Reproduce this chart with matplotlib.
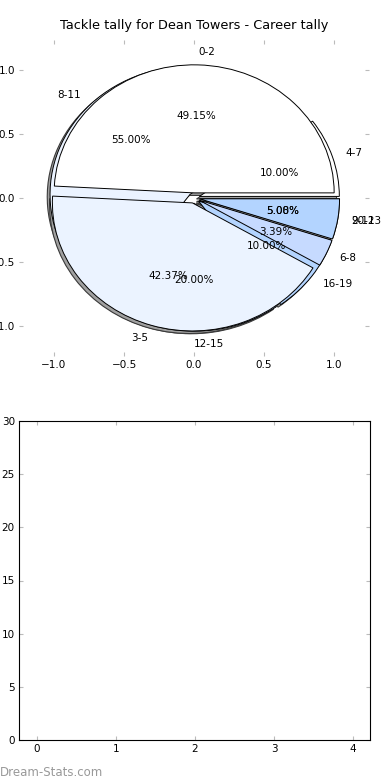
import matplotlib
matplotlib.use("Agg")
import matplotlib.pyplot as plt

# Datos: dos tallies superpuestos en el mismo pie
labels_a = ["0-2", "3-5", "6-8", "9-11"]
values_a = [29, 25, 2, 3]
labels_b = ["4-7", "8-11", "12-15", "16-19", "20-23"]
values_b = [2, 11, 4, 2, 1]

palette = ["#ffffff", "#ebf3ff", "#c6daff", "#b3d4ff", "#ffffff"]

bar_xticks = [0, 1, 2, 3, 4]
bar_yticks = [0, 5, 10, 15, 20, 25, 30]

W, H = 390, 780
fig = plt.figure(figsize=(W / 100, H / 100), dpi=100)

tick_gray = "#bbbbbb"
fs = 7.5
expl = 0.04

# --- pie ---
ax1 = fig.add_axes([19 / W, 1 - 356 / H, 350 / W, 316 / H])
wp = {"edgecolor": "black", "linewidth": 0.7}

# sombra: misma torta desplazada, en gris, por debajo
for vals in (values_b, values_a):
    ax1.pie(vals, explode=[expl] * len(vals), center=(-0.02, -0.02),
            colors=["#a0a0a0"] * len(vals),
            wedgeprops={"edgecolor": "#3a3a3a", "linewidth": 0.8, "zorder": 0.5},
            normalize=True)

ax1.pie(values_b, labels=labels_b, explode=[expl] * len(values_b),
        colors=palette[:len(values_b)], autopct="%1.2f%%",
        wedgeprops=wp, textprops={"fontsize": fs}, normalize=True)
ax1.pie(values_a, labels=labels_a, explode=[expl] * len(values_a),
        colors=palette[:len(values_a)], autopct="%1.2f%%",
        wedgeprops=wp, textprops={"fontsize": fs}, normalize=True)
ax1.set_aspect("auto")
ax1.set_frame_on(False)
ax1.set_xlim(-1.25, 1.25)
ax1.set_ylim(-1.234, 1.234)
ax1.set_xticks([-1.0, -0.5, 0.0, 0.5, 1.0])
ax1.set_yticks([-1.0, -0.5, 0.0, 0.5, 1.0])
ax1.set_xticklabels(["\u22121.0", "\u22120.5", "0.0", "0.5", "1.0"])
ax1.set_yticklabels(["\u22121.0", "\u22120.5", "0.0", "0.5", "1.0"])
ax1.tick_params(direction="in", length=3, color=tick_gray, labelsize=fs,
                top=True, right=True, pad=3)
ax1.set_title("Tackle tally for Dean Towers - Career tally", fontsize=9.3, pad=8)

# --- eje vacio inferior ---
ax2 = fig.add_axes([19 / W, 1 - 740 / H, 351 / W, 319 / H])
ax2.set_xlim(-0.228, 4.215)
ax2.set_ylim(0, 30)
ax2.set_xticks(bar_xticks)
ax2.set_yticks(bar_yticks)
ax2.tick_params(direction="in", length=3, color=tick_gray, labelsize=fs,
                top=True, right=True, pad=3)
for s in ax2.spines.values():
    s.set_linewidth(0.8)

fig.text(0.0, 1 - 776 / H, "Dream-Stats.com", color="#999999", fontsize=8.5,
         ha="left", va="baseline")

fig.savefig("out.png", dpi=100)
